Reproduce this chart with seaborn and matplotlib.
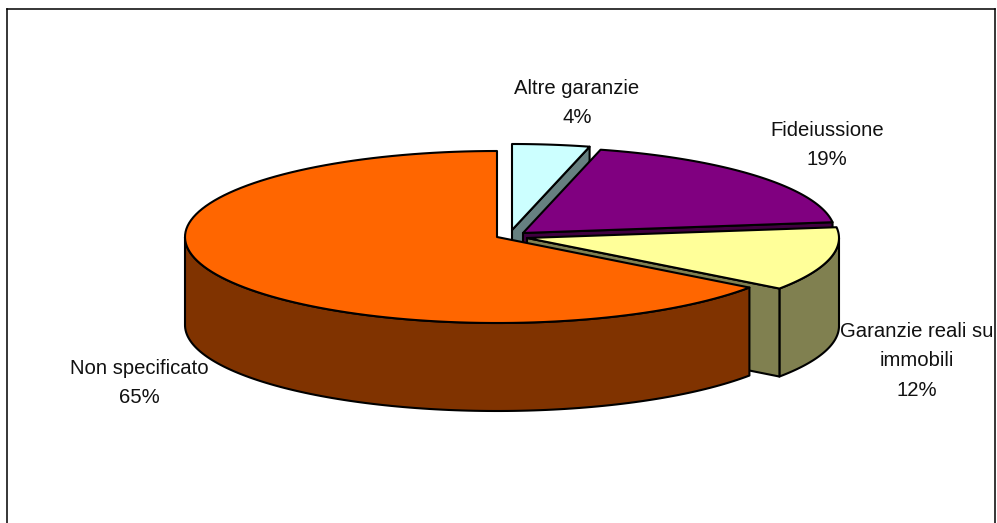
"""Exploded 3D-look pie of guarantee types, drawn on unit-circle data coordinates."""
import numpy as np
import matplotlib.pyplot as plt
import seaborn as sns

categories = ["Altre garanzie", "Fideiussione", "Garanzie reali su\nimmobili", "Non specificato"]
shares = [4, 19, 12, 65]

top_colors = ["#CCFFFF", "#800080", "#FFFF99", "#FF6600"]
side_colors = ["#668080", "#400040", "#808050", "#803300"]

# layout in reference pixels
W, H = 997, 523
FRAME_L, FRAME_R, FRAME_T = 7, 995, 8.5
RX, RY, DEPTH_PX = 312, 86, 88
CX, CY = 497, 237
apex_px = [(512, 230), (523, 233), (527, 238), (497, 237)]
label_px = [(577, 103), (827, 145), (917, 361), (139, 383)]


def to_data(px, py):
    return (px - CX) / RX, (CY - py) / RY


sns.set_theme(style="white")
plt.rcParams["font.family"] = ["Liberation Sans", "DejaVu Sans"]

fig = plt.figure(figsize=(W / 100, H / 100), dpi=100, facecolor="white")
ax = fig.add_axes([FRAME_L / W, 0, (FRAME_R - FRAME_L) / W, (H - FRAME_T) / H])
ax.set_xlim(to_data(FRAME_L, 0)[0], to_data(FRAME_R, 0)[0])
ax.set_ylim(to_data(0, H)[1], to_data(0, FRAME_T)[1])
ax.set_xticks([])
ax.set_yticks([])
sns.despine(ax=ax, top=False, right=False, left=False, bottom=True)
for side in ["left", "top", "right"]:
    ax.spines[side].set_color("black")
    ax.spines[side].set_linewidth(1.1)

depth = DEPTH_PX / RY
edges = np.concatenate([[0], np.cumsum(shares)]) * 3.6


def arc(x0, y0, start, end):
    t = np.radians(np.linspace(start, end, 120))
    return x0 + np.sin(t), y0 + np.cos(t)


# back to front, clockwise from 12 o'clock
for i, share in enumerate(shares):
    a, b = edges[i], edges[i + 1]
    x0, y0 = to_data(*apex_px[i])
    style = dict(edgecolor="black", linewidth=1.5, joinstyle="round")

    # outer wall, only the front half of the rim shows
    lo, hi = max(a, 90), min(b, 270)
    if lo < hi:
        wx, wy = arc(x0, y0, lo, hi)
        ax.fill(np.r_[wx, wx[::-1]], np.r_[wy, wy[::-1] - depth], facecolor=side_colors[i], **style)

    # cut face at the clockwise end
    if b < 180:
        ex, ey = arc(x0, y0, b, b)
        ax.fill([x0, ex[0], ex[0], x0], [y0, ey[0], ey[0] - depth, y0 - depth],
                facecolor=side_colors[i], **style)

    # top face
    tx, ty = arc(x0, y0, a, b)
    ax.fill(np.r_[x0, tx], np.r_[y0, ty], facecolor=top_colors[i], **style)

for name, share, pos in zip(categories, shares, label_px):
    lx, ly = to_data(*pos)
    ax.text(lx, ly, f"{name}\n{share}%", ha="center", va="center", ma="center",
            fontsize=14.6, color="#111111", linespacing=1.7, zorder=5)

fig.savefig("out.png", dpi=100)
